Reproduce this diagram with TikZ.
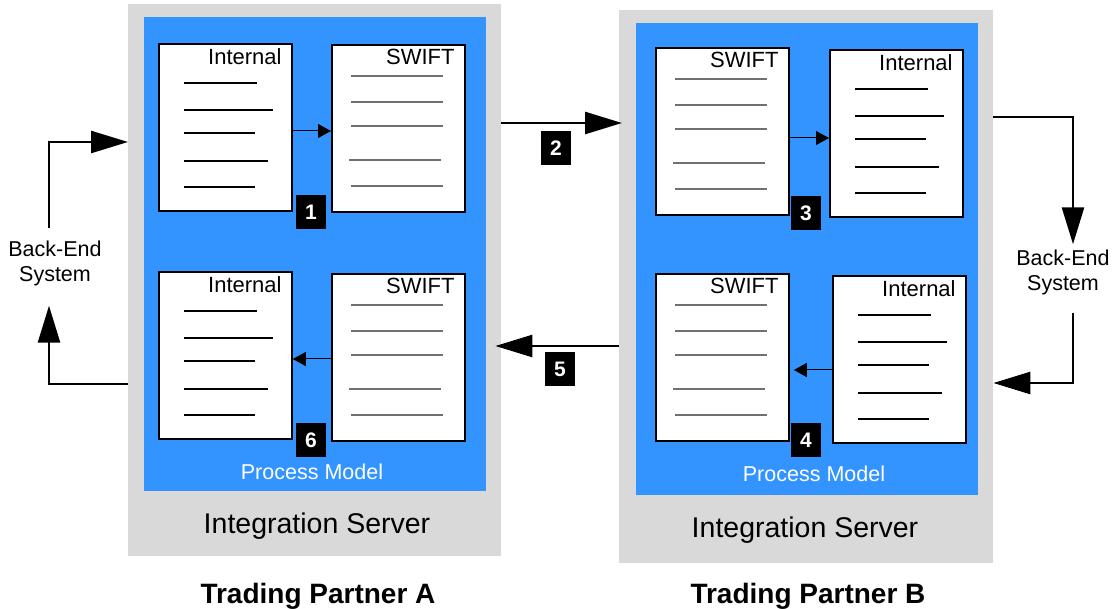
\documentclass[tikz,border=0pt]{standalone}
\usepackage{fontspec}
\setmainfont{Liberation Sans}
\usetikzlibrary{arrows.meta}
\usetikzlibrary{calc}
\definecolor{pmblue}{RGB}{51,148,255}
\definecolor{srvgray}{RGB}{217,217,217}
\definecolor{swgray}{RGB}{112,112,112}

% document with internal format
\newcommand{\intdoc}[3]{%
    \node[docbox] (#1) at (#2,#3) {};
    \node[doclabel] at ($(#1.north east)+(-11,22)$) {Internal};
    \foreach \dy/\w in {40/73,67/89,90/71,118/84,144/71}
        \draw[intline] ($(#1.north west)+(26,\dy)$) -- ++(\w,0);
}
% document with SWIFT format
\newcommand{\swiftdoc}[3]{%
    \node[docbox] (#1) at (#2,#3) {};
    \node[doclabel] at ($(#1.north east)+(-11,21)$) {SWIFT};
    \foreach \dx/\dy in {20/32,20/58,20/82,18/116,20/142}
        \draw[swline] ($(#1.north west)+(\dx,\dy)$) -- ++(92,0);
}

\begin{document}
\begin{tikzpicture}[x=1pt, y=-1pt,
    server/.style={fill=srvgray, anchor=north west, inner sep=0},
    pm/.style={fill=pmblue, anchor=north west, inner sep=0},
    docbox/.style={draw, fill=white, line width=1.8pt, anchor=north west,
        minimum width=133pt, minimum height=167pt, inner sep=0},
    doclabel/.style={anchor=base east, inner sep=0, font=\fontsize{22}{26}\selectfont},
    intline/.style={line width=1.8pt},
    swline/.style={line width=1.2pt, swgray},
    badge/.style={fill=black, text=white, minimum width=30pt, minimum height=34pt,
        inner sep=0, font=\bfseries\fontsize{21}{21}\selectfont},
    bigarrow/.style={line width=2.6pt, -{Triangle[length=37pt,width=22pt]}},
    smallarrow/.style={line width=1pt, -{Triangle[length=13pt,width=14pt]}},
    betext/.style={align=center, inner sep=0, font=\fontsize{21.5}{25}\selectfont},
    pmlabel/.style={anchor=base, inner sep=0, text=white, font=\fontsize{21.5}{24}\selectfont},
    srvlabel/.style={anchor=base, inner sep=0, font=\fontsize{28.5}{32}\selectfont},
    partner/.style={anchor=base, inner sep=0, font=\bfseries\fontsize{28}{32}\selectfont}]
    \useasboundingbox (0,0) rectangle (1117,609);

    % servers and process models
    \node[server, minimum width=373pt, minimum height=552pt] (srvA) at (128,4) {};
    \node[server, minimum width=374pt, minimum height=553pt] (srvB) at (619,10) {};
    \node[pm, minimum width=342pt, minimum height=474pt] (pmA) at (144,17) {};
    \node[pm, minimum width=342pt, minimum height=472pt] (pmB) at (636,23) {};

    % documents
    \intdoc{intA1}{158}{43}
    \swiftdoc{swA1}{331}{44}
    \intdoc{intA2}{158}{271}
    \swiftdoc{swA2}{331}{273}
    \swiftdoc{swB1}{655}{47}
    \intdoc{intB1}{829}{49}
    \swiftdoc{swB2}{655}{273}
    \intdoc{intB2}{832}{275}

    % mappings inside the process models
    \draw[smallarrow] (intA1.east |- 0,131) -- (swA1.west |- 0,131);
    \draw[smallarrow] (swA2.west |- 0,359) -- (intA2.east |- 0,359);
    \draw[smallarrow] (swB1.east |- 0,138) -- (intB1.west |- 0,138);
    \draw[smallarrow, shorten >=4pt] (intB2.west |- 0,370) -- (swB2.east |- 0,370);

    % labels
    \node[pmlabel] (pmlA) at (312,480) {Process Model};
    \node[pmlabel] (pmlB) at (814,482) {Process Model};
    \node[srvlabel] (islA) at (317,533) {Integration Server};
    \node[srvlabel] (islB) at (805,537) {Integration Server};
    \node[partner] (tpA) at (318,603) {Trading Partner A};
    \node[partner] (tpB) at (808,603) {Trading Partner B};

    % back-end systems
    \node[betext] (beA) at (55,263) {Back-End\\System};
    \node[betext] (beB) at (1063,272) {Back-End\\System};
    \draw[bigarrow] ([xshift=-6pt,yshift=12pt]beA.north) |- (srvA.west |- 0,142);
    \draw[bigarrow] (srvA.west |- 0,384) -| ([xshift=-6pt,yshift=-20pt]beA.south);
    \draw[bigarrow] (srvB.east |- 0,117) -| ([xshift=10pt,yshift=5pt]beB.north);
    \draw[bigarrow] ([xshift=10pt,yshift=-18pt]beB.south) |- (srvB.east |- 0,383);

    % exchange between partners
    \draw[bigarrow, shorten >=-3pt] (srvA.east |- 0,123) -- (srvB.west |- 0,123);
    \draw[bigarrow, shorten >=-6pt] (srvB.west |- 0,346) -- (srvA.east |- 0,346);

    % steps
    \node[badge] (s1) at (311,212) {1};
    \node[badge] (s2) at (556,148) {2};
    \node[badge] (s3) at (806,213) {3};
    \node[badge] (s4) at (806,440) {4};
    \node[badge] (s5) at (560,369) {5};
    \node[badge] (s6) at (311,440) {6};
\end{tikzpicture}
\end{document}
